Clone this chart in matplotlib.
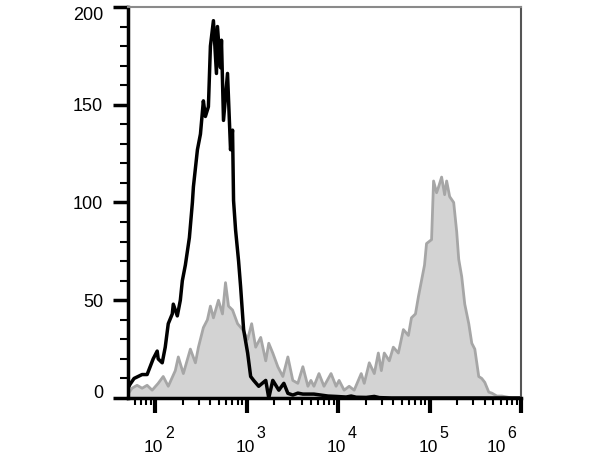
import numpy as np
import matplotlib.pyplot as plt
from matplotlib.ticker import LogLocator, MultipleLocator, NullFormatter

plt.rcParams['font.family'] = ['Liberation Sans', 'DejaVu Sans']

# isotype control (black outline), x in log10 units
black_log = [1.703, 1.725, 1.769, 1.813, 1.857, 1.912, 1.945, 1.978, 2.022, 2.033,
             2.077, 2.110, 2.143, 2.187, 2.198, 2.242, 2.275, 2.297, 2.330, 2.374,
             2.407, 2.418, 2.462, 2.495, 2.527, 2.549, 2.582, 2.604, 2.637, 2.670,
             2.681, 2.714, 2.725, 2.747, 2.791, 2.824, 2.846, 2.857, 2.879, 2.912,
             2.934, 2.967, 3.011, 3.044, 3.077, 3.132, 3.209, 3.242, 3.286, 3.352,
             3.407, 3.451, 3.505, 3.560, 3.615, 3.681, 3.736, 3.813, 3.890, 3.978,
             4.088, 4.143, 4.198, 4.308, 4.396, 4.451, 4.582, 6.0]
black_count = [5, 7, 10, 11, 12, 12, 16, 20, 24, 20,
               18, 26, 38, 43, 48, 42, 50, 60, 68, 82,
               100, 108, 127, 135, 152, 144, 149, 180, 193, 166,
               190, 169, 183, 142, 166, 127, 137, 101, 86, 70,
               57, 35, 23, 11, 9, 6, 9, 0, 9, 4,
               7.5, 2.4, 1.5, 2.5, 2, 2, 2, 1.5, 1, 0.8,
               0.5, 1, 0.4, 0.3, 0.8, 0.2, 0, 0]

# stained sample (grey filled)
gray_log = [1.703, 1.747, 1.802, 1.857, 1.912, 1.967, 2.033, 2.088, 2.143, 2.220,
            2.253, 2.308, 2.385, 2.440, 2.473, 2.527, 2.571, 2.604, 2.637, 2.692,
            2.736, 2.769, 2.802, 2.846, 2.901, 2.956, 3.011, 3.055, 3.099, 3.154,
            3.209, 3.242, 3.286, 3.341, 3.396, 3.451, 3.505, 3.560, 3.615, 3.670,
            3.703, 3.736, 3.791, 3.846, 3.923, 3.978, 4.011, 4.066, 4.121, 4.176,
            4.253, 4.286, 4.341, 4.396, 4.440, 4.473, 4.505, 4.560, 4.604, 4.659,
            4.714, 4.769, 4.802, 4.846, 4.879, 4.912, 4.945, 4.967, 5.022, 5.044,
            5.077, 5.099, 5.132, 5.165, 5.187, 5.220, 5.264, 5.297, 5.319, 5.352,
            5.385, 5.429, 5.462, 5.495, 5.538, 5.571, 5.604, 5.648, 5.681, 5.736,
            5.791, 5.846, 5.901, 6.0]
gray_count = [2, 5, 6.5, 5, 6.5, 4, 7.5, 11, 6, 14,
              21, 12.5, 25, 18, 26, 36, 40, 47, 41, 50,
              43, 59, 47, 45, 38, 35, 30, 38, 26, 31,
              19, 28, 23, 16, 11, 21, 9, 7.5, 16, 6,
              9, 6, 12.5, 6, 12.5, 6, 9, 4, 6, 4,
              12.5, 7.5, 18, 12.5, 23, 14, 23, 19, 26, 23,
              35, 32, 41, 43, 52, 60, 68, 79, 81, 111,
              105, 108, 113, 104, 111, 103, 100, 85, 71, 62,
              48, 38, 28, 25, 11, 10, 8, 3, 2.5, 1,
              1, 0.5, 0, 0]

decades = [2, 3, 4, 5, 6]
y_ticks = [0, 50, 100, 150, 200]

fig = plt.figure(figsize=(6.09, 4.57), dpi=100)
ax = fig.add_axes([0.2102, 0.1291, 0.6453, 0.8556])

gx = 10 ** np.array(gray_log)
bx = 10 ** np.array(black_log)
ax.fill_between(gx, gray_count, color='#d3d3d3', lw=0)
ax.plot(gx, gray_count, color='#a6a6a6', lw=2)
ax.plot(bx, black_count, color='black', lw=2.5)

ax.set_xscale('log')
ax.set_xlim(10 ** 1.703, 10 ** 6.0)
ax.set_ylim(0, 200)

ax.xaxis.set_major_locator(LogLocator(base=10, numticks=10))
ax.xaxis.set_minor_locator(LogLocator(base=10, subs=np.arange(2, 10), numticks=20))
ax.xaxis.set_major_formatter(NullFormatter())
ax.xaxis.set_minor_formatter(NullFormatter())
ax.tick_params(axis='x', which='major', length=11, width=3, direction='out')
ax.tick_params(axis='x', which='minor', length=5, width=1.5, direction='out')

ax.set_yticks(y_ticks, [str(v) for v in y_ticks])
ax.yaxis.set_minor_locator(MultipleLocator(10))
ax.tick_params(axis='y', which='major', length=11, width=2.5, direction='out',
               labelsize=13, pad=7)
ax.tick_params(axis='y', which='minor', length=6, width=1.5, direction='out')
ylabels = ax.get_yticklabels()
ylabels[0].set_va('baseline')
ylabels[-1].set_va('top')

for s in ['left', 'bottom']:
    ax.spines[s].set_linewidth(2.5)
    ax.spines[s].set_color('black')
ax.spines['top'].set_linewidth(1.5)
ax.spines['top'].set_color('#8a8a8a')
ax.spines['right'].set_linewidth(1.5)
ax.spines['right'].set_color('#555555')

# decade labels: "10" with a large exponent, set well below the axis
for d in decades:
    shift = 5.8 if d < 6 else -10.8
    ax.annotate('10', xy=(10 ** d, 0), xycoords=('data', 'axes fraction'),
                xytext=(shift, -38.9), textcoords='offset points',
                ha='right', va='baseline', fontsize=12.5)
    ax.annotate(str(d), xy=(10 ** d, 0), xycoords=('data', 'axes fraction'),
                xytext=(shift + 1.2, -28.8), textcoords='offset points',
                ha='left', va='baseline', fontsize=11.5)

fig.savefig('out.png', dpi=100)
